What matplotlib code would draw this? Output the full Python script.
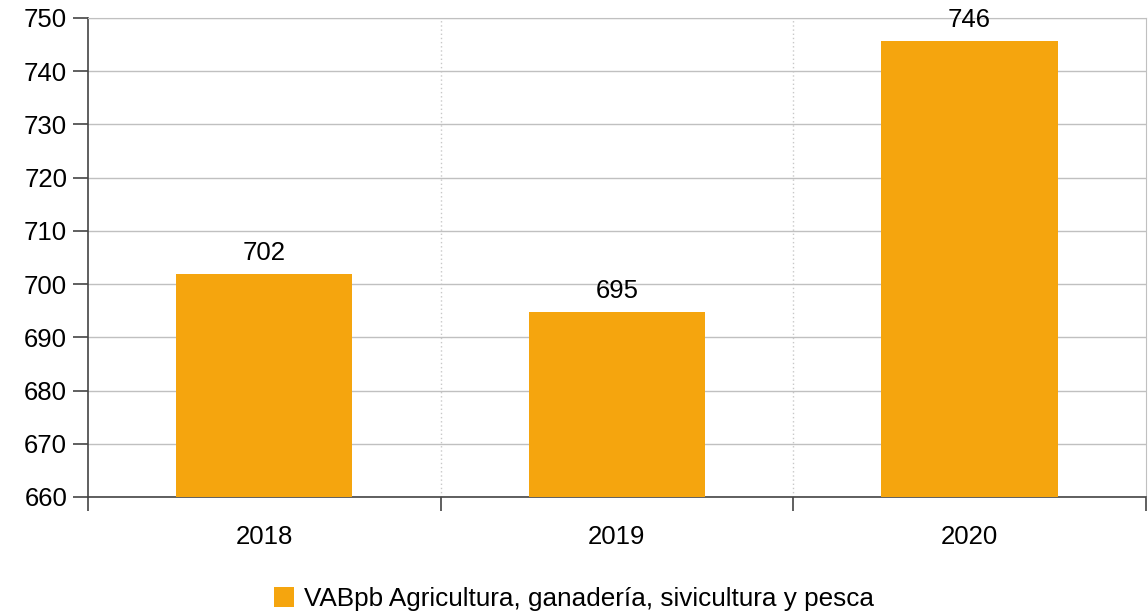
import matplotlib.pyplot as plt

plt.rcParams['font.family'] = ['Liberation Sans', 'DejaVu Sans']

years = ['2018', '2019', '2020']
vab = [701.9, 694.7, 745.6]
serie = 'VABpb Agricultura, ganadería, sivicultura y pesca'
bar_color = '#F5A50E'

fig = plt.figure(figsize=(11.48, 6.12), dpi=100)
ax = fig.add_axes([0.0767, 0.188, 0.9213, 0.7826])

x = range(len(years))
bars = ax.bar(x, [v - 660 for v in vab], bottom=660, width=0.5, color=bar_color,
              label=serie, zorder=3)
for xi, v in zip(x, vab):
    ax.text(xi, v + 1.7, f'{v:.0f}', ha='center', va='bottom', fontsize=18.5, zorder=4)

ax.set_xlim(-0.5, len(years) - 0.5)
ax.set_ylim(660, 750)
ax.set_yticks(range(660, 751, 10))
ax.set_xticks(list(x))
ax.set_xticklabels(years)
ax.set_xticks([i - 0.5 for i in range(len(years) + 1)], minor=True)

# horizontal grid solid, vertical dotted at category borders
ax.grid(axis='y', color='#c0c0c0', linewidth=1, zorder=0)
for b in [i + 0.5 for i in range(len(years) - 1)]:
    ax.axvline(b, color='#c8c8c8', linestyle=(0, (1, 2)), linewidth=1, zorder=0)

ax.tick_params(axis='x', which='major', length=0, pad=20, labelsize=18.5)
ax.tick_params(axis='x', which='minor', length=10, width=1.2, color='#444444', direction='out')
ax.tick_params(axis='y', length=11, width=1.2, color='#444444', labelsize=18.5, pad=4)

for s in ['left', 'bottom']:
    ax.spines[s].set_color('#444444')
    ax.spines[s].set_linewidth(1.2)
ax.spines['right'].set_color('#c0c0c0')
ax.spines['top'].set_color('#c0c0c0')

fig.legend(handles=[bars], labels=[serie], loc='lower center', bbox_to_anchor=(0.5, -0.037),
           frameon=False, fontsize=18.8, handlelength=0.75, handleheight=0.75, handletextpad=0.4)

fig.savefig('out.png', dpi=100)
